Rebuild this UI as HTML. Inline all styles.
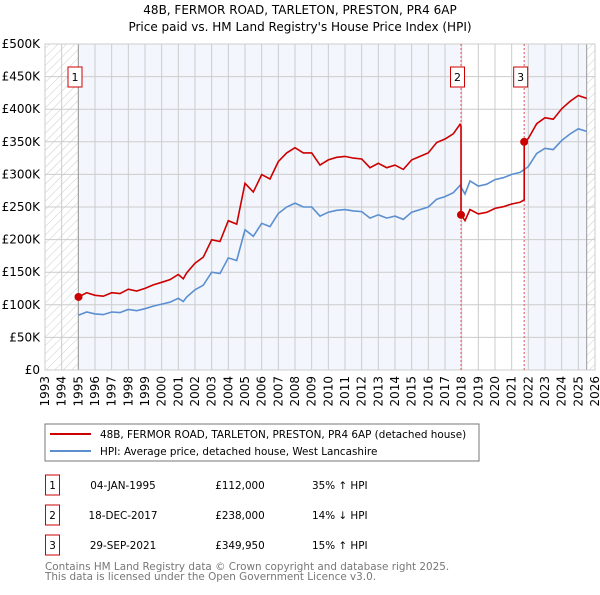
<!DOCTYPE html>
<html><head><meta charset="utf-8"><style>
body{margin:0;background:#fff;font-family:"Liberation Sans","DejaVu Sans",sans-serif;}
svg text{font-family:"DejaVu Sans","Liberation Sans",sans-serif;}
</style></head><body>
<svg id="c" width="600" height="590" xmlns="http://www.w3.org/2000/svg">
<defs><pattern id="hatch" width="6" height="6" patternUnits="userSpaceOnUse" patternTransform="rotate(45)"><line x1="0" y1="0" x2="0" y2="6" stroke="#ccc" stroke-width="1"/></pattern></defs>
<text x="300" y="14" text-anchor="middle" font-size="12">48B, FERMOR ROAD, TARLETON, PRESTON, PR4 6AP</text>
<text x="300" y="31" text-anchor="middle" font-size="12">Price paid vs. HM Land Registry's House Price Index (HPI)</text>
<g id="plot"></g>
<rect x="45" y="424" width="434" height="37" fill="#fff" stroke="#777"/>
<line x1="50" y1="434" x2="91" y2="434" stroke="#cc0000" stroke-width="2"/>
<text x="100" y="438" font-size="10.4">48B, FERMOR ROAD, TARLETON, PRESTON, PR4 6AP (detached house)</text>
<line x1="50" y1="451" x2="91" y2="451" stroke="#5b8fd0" stroke-width="2"/>
<text x="100" y="455" font-size="10.4">HPI: Average price, detached house, West Lancashire</text>
<g id="table" font-size="10.4"></g>
<text x="45" y="570" font-size="10.4" fill="#777">Contains HM Land Registry data © Crown copyright and database right 2025.</text>
<text x="45" y="580" font-size="10.4" fill="#777">This data is licensed under the Open Government Licence v3.0.</text>
</svg>
<script>
const hpiYears=[1995,1995.5,1996,1996.5,1997,1997.5,1998,1998.5,1999,1999.5,2000,2000.5,2001,2001.3,2001.5,2002,2002.5,2003,2003.5,2004,2004.5,2005,2005.5,2006,2006.5,2007,2007.5,2008,2008.5,2009,2009.5,2010,2010.5,2011,2011.5,2012,2012.5,2013,2013.5,2014,2014.5,2015,2015.5,2016,2016.5,2017,2017.5,2017.9,2018.2,2018.5,2019,2019.5,2020,2020.5,2021,2021.5,2022,2022.5,2023,2023.5,2024,2024.5,2025,2025.5];
const hpiValues=[84,89,86,85,89,88,93,91,94,98,101,104,110,105,112,123,130,150,148,172,168,215,205,225,220,240,250,256,250,250,236,242,245,246,244,243,233,238,233,236,231,242,246,250,262,266,272,283,270,290,282,285,292,295,300,303,312,332,340,338,352,362,370,366];
const saleDates=[1995.01,2017.96,2021.75];
const salePrices=[112000,238000,349950];
const saleLabels=["1","2","3"];
const saleDateText=["04-JAN-1995","18-DEC-2017","29-SEP-2021"];
const salePriceText=["£112,000","£238,000","£349,950"];
const saleHpiText=["35% ↑ HPI","14% ↓ HPI","15% ↑ HPI"];
const yTicks=[0,50000,100000,150000,200000,250000,300000,350000,400000,450000,500000];
const yTickLabels=["£0","£50K","£100K","£150K","£200K","£250K","£300K","£350K","£400K","£450K","£500K"];
const xTicks=[1993,1994,1995,1996,1997,1998,1999,2000,2001,2002,2003,2004,2005,2006,2007,2008,2009,2010,2011,2012,2013,2014,2015,2016,2017,2018,2019,2020,2021,2022,2023,2024,2025,2026];

const NS="http://www.w3.org/2000/svg";
const X0=45,X1=595,Y0=370,Y1=44;
const xs=t=>X0+(t-1993)/(2026-1993)*(X1-X0);
const ys=v=>Y0-v/500000*(Y0-Y1);
const g=document.getElementById('plot');
function mk(tag,attrs,parent){const e=document.createElementNS(NS,tag);for(const k in attrs)e.setAttribute(k,attrs[k]);(parent||g).appendChild(e);return e;}
function hpiAt(t){for(let i=0;i<hpiYears.length-1;i++){if(t<=hpiYears[i+1]){const f=(t-hpiYears[i])/(hpiYears[i+1]-hpiYears[i]);return hpiValues[i]+f*(hpiValues[i+1]-hpiValues[i]);}}return hpiValues[hpiValues.length-1];}

let e;
e=mk('rect',{x:xs(1995),y:Y1,width:xs(saleDates[1])-xs(1995),height:Y0-Y1,fill:'#f3f6fd'});


e=mk('rect',{x:xs(saleDates[2]),y:Y1,width:xs(2025.5)-xs(saleDates[2]),height:Y0-Y1,fill:'#f3f6fd'});


e=mk('rect',{x:X0,y:Y1,width:xs(1995)-X0,height:Y0-Y1,fill:'url(#hatch)'});


e=mk('rect',{x:xs(2025.5),y:Y1,width:X1-xs(2025.5),height:Y0-Y1,fill:'url(#hatch)'});



yTicks.forEach((v,i)=>{
  e=mk('line',{x1:X0,x2:X1,y1:ys(v),y2:ys(v),stroke:'#ccc','stroke-width':1});
  
  
  e=mk('text',{x:40,y:ys(v)+4,'text-anchor':'end','font-size':12});
  e.textContent=yTickLabels[i];
  
  
});
xTicks.forEach(t=>{
  e=mk('line',{x1:xs(t),x2:xs(t),y1:Y1,y2:Y0,stroke:'#ccc','stroke-width':1});
  
  
  e=mk('text',{x:0,y:0,'text-anchor':'end','font-size':12,transform:`translate(${xs(t)+4},${Y0+6}) rotate(-90)`});
  e.textContent=t;
  
  
});
e=mk('line',{x1:xs(1995),x2:xs(1995),y1:Y1,y2:Y0,stroke:'#999','stroke-width':1});


e=mk('line',{x1:xs(2025.5),x2:xs(2025.5),y1:Y1,y2:Y0,stroke:'#999','stroke-width':1});


e=mk('rect',{x:X0,y:Y1,width:X1-X0,height:Y0-Y1,fill:'none',stroke:'#ccc'});



for(let i=1;i<3;i++){
  e=mk('line',{x1:xs(saleDates[i]),x2:xs(saleDates[i]),y1:Y1,y2:Y0,stroke:'#e05555','stroke-width':1,'stroke-dasharray':'2,2'});
  
  
}

let d=hpiYears.map((t,i)=>(i?'L':'M')+xs(t).toFixed(1)+','+ys(hpiValues[i]*1000).toFixed(1)).join('');
e=mk('path',{d:d,fill:'none',stroke:'#5b8fd0','stroke-width':1.6});



let pts=[];
for(let s=0;s<saleDates.length;s++){
  const start=saleDates[s],end=s+1<saleDates.length?saleDates[s+1]:2025.5;
  const base=salePrices[s]/hpiAt(start);
  pts.push([start,salePrices[s]]);
  hpiYears.forEach((t,i)=>{if(t>start&&t<end)pts.push([t,hpiValues[i]*base]);});
  pts.push([end,hpiAt(end)*base]);
}
d=pts.map((p,i)=>(i?'L':'M')+xs(p[0]).toFixed(1)+','+ys(p[1]).toFixed(1)).join('');
e=mk('path',{d:d,fill:'none',stroke:'#cc0000','stroke-width':1.6});



saleDates.forEach((t,i)=>{
  e=mk('circle',{cx:xs(t),cy:ys(salePrices[i]),r:4,fill:'#cc0000'});
  
  
  const cx=xs(t)-3.5;
  e=mk('rect',{x:cx-7,y:67,width:14,height:20,fill:'#fff',stroke:'#cc0000'});
  
  
  e=mk('text',{x:cx,y:81,'text-anchor':'middle','font-size':11});
  e.textContent=saleLabels[i];
  
  
});

const tb=document.getElementById('table');
saleLabels.forEach((l,i)=>{
  const y=475+i*30;
  e=mk('rect',{x:45.5,y:y,width:14,height:20,fill:'#fff',stroke:'#cc0000'},tb);
  
  
  e=mk('text',{x:52.5,y:y+14,'text-anchor':'middle'},tb);e.textContent=l;
  
  
  e=mk('text',{x:123,y:y+14,'text-anchor':'middle'},tb);e.textContent=saleDateText[i];
  
  
  e=mk('text',{x:240,y:y+14,'text-anchor':'middle'},tb);e.textContent=salePriceText[i];
  
  
  e=mk('text',{x:312,y:y+14},tb);e.textContent=saleHpiText[i];
  
  
});
</script>
</body></html>
